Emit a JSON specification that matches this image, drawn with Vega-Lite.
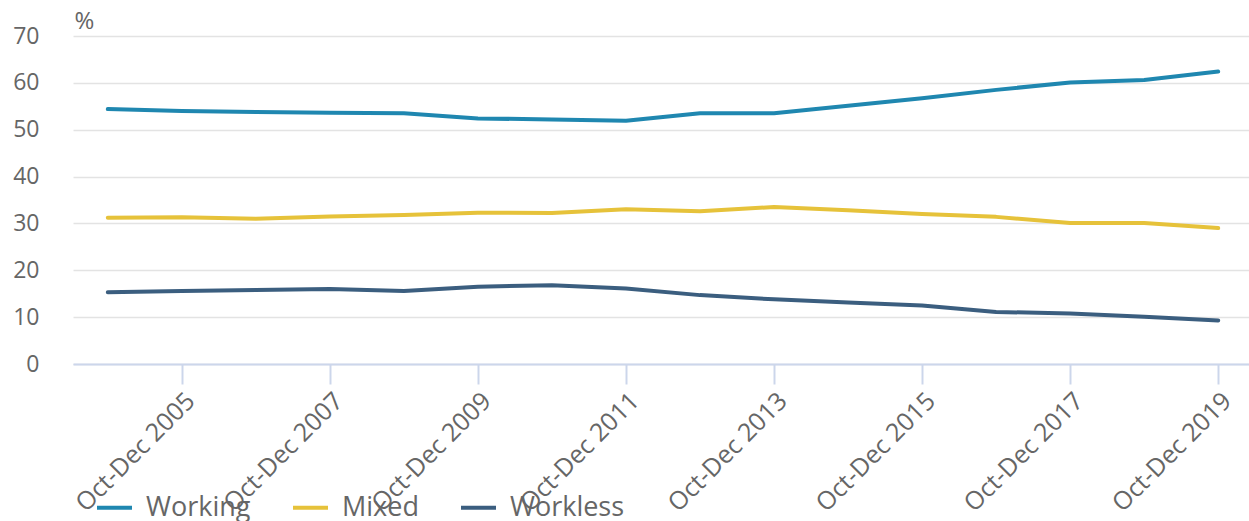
{
  "$schema": "https://vega.github.io/schema/vega-lite/v6.json",
  "width": 1180,
  "height": 328,
  "autosize": "none",
  "padding": {"left": 73, "top": 36, "right": 0, "bottom": 157},
  "config": {
    "view": {"stroke": null},
    "font": "Open Sans",
    "axis": {"labelFont": "Open Sans", "titleFont": "Open Sans", "labelColor": "#666666", "titleColor": "#666666"},
    "legend": {"labelFont": "Open Sans"}
  },
  "data": {
    "values": [
      {"period": "Oct-Dec 2004", "Working": 54.4, "Mixed": 31.2, "Workless": 15.3},
      {"period": "Oct-Dec 2005", "Working": 54.0, "Mixed": 31.3, "Workless": 15.6},
      {"period": "Oct-Dec 2006", "Working": 53.8, "Mixed": 31.0, "Workless": 15.8},
      {"period": "Oct-Dec 2007", "Working": 53.6, "Mixed": 31.5, "Workless": 16.0},
      {"period": "Oct-Dec 2008", "Working": 53.5, "Mixed": 31.8, "Workless": 15.6},
      {"period": "Oct-Dec 2009", "Working": 52.4, "Mixed": 32.3, "Workless": 16.5},
      {"period": "Oct-Dec 2010", "Working": 52.2, "Mixed": 32.2, "Workless": 16.8},
      {"period": "Oct-Dec 2011", "Working": 51.9, "Mixed": 33.0, "Workless": 16.1},
      {"period": "Oct-Dec 2012", "Working": 53.5, "Mixed": 32.6, "Workless": 14.7},
      {"period": "Oct-Dec 2013", "Working": 53.5, "Mixed": 33.5, "Workless": 13.8},
      {"period": "Oct-Dec 2014", "Working": 55.1, "Mixed": 32.8, "Workless": 13.1},
      {"period": "Oct-Dec 2015", "Working": 56.7, "Mixed": 32.0, "Workless": 12.5},
      {"period": "Oct-Dec 2016", "Working": 58.5, "Mixed": 31.4, "Workless": 11.1},
      {"period": "Oct-Dec 2017", "Working": 60.1, "Mixed": 30.1, "Workless": 10.8},
      {"period": "Oct-Dec 2018", "Working": 60.6, "Mixed": 30.1, "Workless": 10.1},
      {"period": "Oct-Dec 2019", "Working": 62.4, "Mixed": 29.0, "Workless": 9.3}
    ]
  },
  "transform": [
    {"fold": ["Working", "Mixed", "Workless"], "as": ["series", "value"]}
  ],
  "mark": {"type": "line", "strokeWidth": 4, "strokeCap": "round", "strokeJoin": "round"},
  "encoding": {
    "x": {
      "field": "period",
      "type": "ordinal",
      "sort": null,
      "scale": {"type": "point", "padding": 0.47},
      "axis": {
        "title": null,
        "values": ["Oct-Dec 2005", "Oct-Dec 2007", "Oct-Dec 2009", "Oct-Dec 2011", "Oct-Dec 2013", "Oct-Dec 2015", "Oct-Dec 2017", "Oct-Dec 2019"],
        "labelAngle": -45,
        "labelFontSize": 25,
        "labelPadding": 4,
        "tickSize": 20,
        "tickColor": "#ccd6eb",
        "tickWidth": 2,
        "domainColor": "#ccd6eb",
        "domainWidth": 2,
        "grid": false,
        "labelOverlap": false
      }
    },
    "y": {
      "field": "value",
      "type": "quantitative",
      "scale": {"domain": [0, 70], "nice": false},
      "axis": {
        "values": [0, 10, 20, 30, 40, 50, 60, 70],
        "title": "%",
        "titleAngle": 0,
        "titleAlign": "left",
        "titleBaseline": "alphabetic",
        "titleX": 1,
        "titleY": -8,
        "titleFontSize": 24,
        "titleFontWeight": "normal",
        "labelFontSize": 23,
        "labelPadding": 34,
        "tickSize": 0,
        "ticks": false,
        "domain": false,
        "grid": true,
        "gridColor": "#e3e3e3",
        "gridWidth": 1.5
      }
    },
    "color": {
      "field": "series",
      "type": "nominal",
      "sort": ["Working", "Mixed", "Workless"],
      "scale": {"domain": ["Working", "Mixed", "Workless"], "range": ["#1f87b0", "#e6c23a", "#3b5e7f"]},
      "legend": {
        "title": null,
        "orient": "none",
        "direction": "horizontal",
        "legendX": 22,
        "legendY": 452,
        "symbolType": "stroke",
        "symbolSize": 1225,
        "symbolStrokeWidth": 4,
        "labelFontSize": 27,
        "labelColor": "#666666",
        "labelOffset": 12,
        "columnPadding": 34
      }
    }
  }
}
